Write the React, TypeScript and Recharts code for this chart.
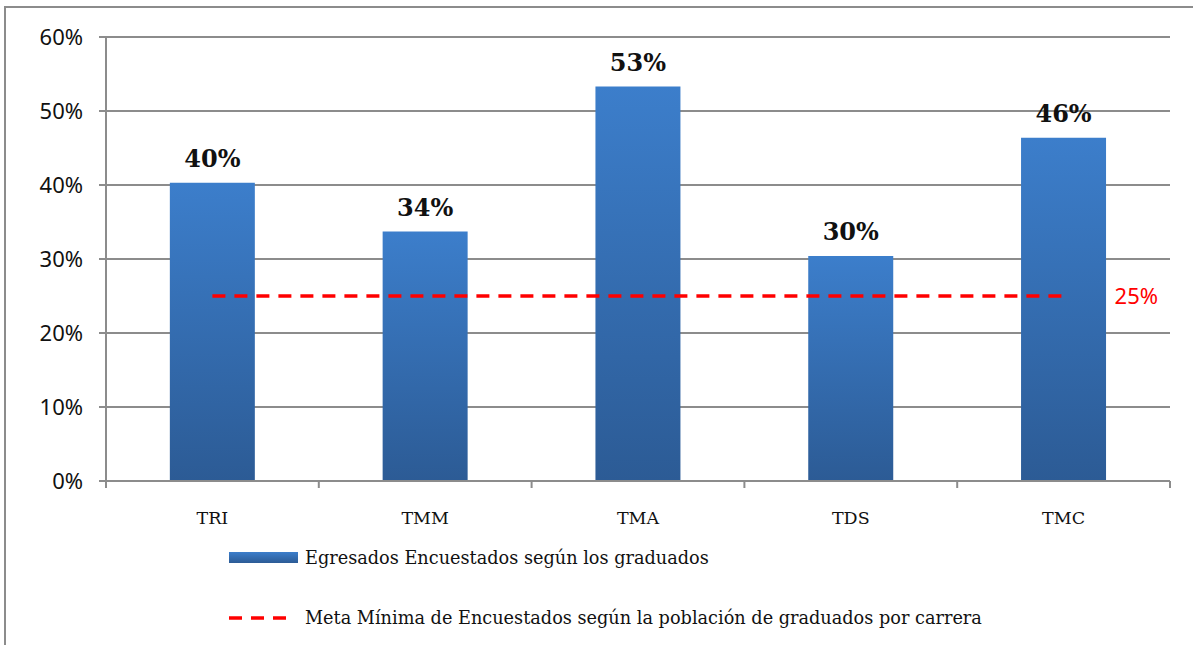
import {
  ComposedChart,
  Bar,
  Line,
  XAxis,
  YAxis,
  CartesianGrid,
  LabelList,
} from "recharts";

const carreras = ["TRI", "TMM", "TMA", "TDS", "TMC"];
const egresados = [40.3, 33.7, 53.3, 30.4, 46.4];
const metaMinima = [25, 25, 25, 25, 25];
const yTicks = [0, 10, 20, 30, 40, 50, 60];
const serieBarras = "Egresados Encuestados según los graduados";
const serieMeta = "Meta Mínima de Encuestados según la población de graduados por carrera";

const data = carreras.map((carrera, i) => ({
  carrera,
  egresados: egresados[i],
  meta: metaMinima[i],
}));

const GRID = "#8c8c8c";
const SANS = "'Noto Sans', 'Open Sans', sans-serif";
const SERIF = "'DejaVu Serif', 'Liberation Serif', serif";

function CategoryTick(props: any) {
  const { x, y, payload, index } = props;
  const half = payload?.offset ?? 106.4;
  const last = index === carreras.length - 1;
  return (
    <g>
      <line x1={x - half} x2={x - half} y1={y - 7} y2={y} stroke={GRID} strokeWidth={2} />
      {last && <line x1={x + half} x2={x + half} y1={y - 7} y2={y} stroke={GRID} strokeWidth={2} />}
      <text x={x} y={y} dy={36} textAnchor="middle" fontFamily={SERIF} fontSize={17.5} fill="#111">
        {payload.value}
      </text>
    </g>
  );
}

function MetaLabel(props: any) {
  const { x, y, index, value } = props;
  if (index !== metaMinima.length - 1) return null;
  return (
    <text x={x + 51} y={y} dy={8} fontFamily={SANS} fontSize={22} fill="#ff0000">
      {`${value}%`}
    </text>
  );
}

export default function App() {
  return (
    <div
      style={{
        position: "absolute",
        left: 0,
        top: 0,
        width: 1193,
        height: 645,
        overflow: "hidden",
        background: "#fff",
      }}
    >
      <div
        style={{
          position: "absolute",
          left: 4,
          top: 6,
          width: 1300,
          height: 800,
          border: `2px solid ${GRID}`,
        }}
      />
      <div style={{ position: "absolute", left: 0, top: 0 }}>
        <ComposedChart
          width={1193}
          height={645}
          data={data}
          margin={{ top: 37, right: 23, left: 46, bottom: 124 }}
          barCategoryGap="30%"
        >
          <defs>
            <linearGradient id="barFill" x1="0" y1="0" x2="0" y2="1">
              <stop offset="0%" stopColor="#3c7ecb" />
              <stop offset="100%" stopColor="#2c5b95" />
            </linearGradient>
          </defs>
          <CartesianGrid vertical={false} stroke={GRID} strokeWidth={2} />
          <XAxis
            dataKey="carrera"
            height={40}
            tickLine={false}
            tickSize={7}
            tickMargin={0}
            axisLine={{ stroke: GRID, strokeWidth: 2 }}
            tick={<CategoryTick />}
            interval={0}
          />
          <YAxis
            width={60}
            domain={[0, 60]}
            ticks={yTicks}
            tickFormatter={(v: number) => `${v}%`}
            tickSize={7}
            tickMargin={16}
            axisLine={{ stroke: GRID, strokeWidth: 2 }}
            tickLine={{ stroke: GRID, strokeWidth: 2 }}
            tick={{ fontFamily: SANS, fontSize: 22, fill: "#111" }}
          />
          <Bar dataKey="egresados" fill="url(#barFill)" isAnimationActive={false}>
            <LabelList
              dataKey="egresados"
              position="top"
              offset={16}
              formatter={(v: any) => `${Math.round(Number(v))}%`}
              style={{ fontFamily: SERIF, fontSize: 24, fontWeight: 700, fill: "#111" }}
            />
          </Bar>
          <Line
            dataKey="meta"
            stroke="#ff0000"
            strokeWidth={3.5}
            strokeDasharray="13 9"
            dot={false}
            activeDot={false}
            isAnimationActive={false}
          >
            <LabelList dataKey="meta" content={<MetaLabel />} />
          </Line>
        </ComposedChart>
      </div>
      <svg
        width={1193}
        height={645}
        style={{ position: "absolute", left: 0, top: 0, pointerEvents: "none" }}
      >
        <defs>
          <linearGradient id="legendFill" x1="0" y1="0" x2="0" y2="1">
            <stop offset="0%" stopColor="#3c7ecb" />
            <stop offset="100%" stopColor="#2c5b95" />
          </linearGradient>
        </defs>
        <rect x={229} y={552} width={69} height={11} fill="url(#legendFill)" />
        <text x={305} y={564} fontFamily={SERIF} fontSize={17.7} fill="#111">
          {serieBarras}
        </text>
        <line
          x1={229}
          x2={288}
          y1={618}
          y2={618}
          stroke="#ff0000"
          strokeWidth={3.5}
          strokeDasharray="13 9"
        />
        <text x={305} y={624} fontFamily={SERIF} fontSize={17.7} fill="#111">
          {serieMeta}
        </text>
      </svg>
    </div>
  );
}
